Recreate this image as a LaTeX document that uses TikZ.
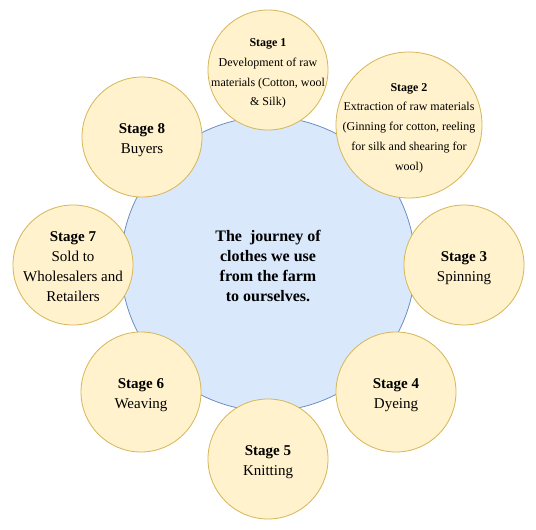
\documentclass[tikz,border=0pt]{standalone}
\usepackage{fontspec}
\setmainfont{Liberation Serif}
\definecolor{yfill}{HTML}{FFF2CC}
\definecolor{ydraw}{HTML}{D6B656}
\definecolor{bfill}{HTML}{DAE8FC}
\definecolor{bdraw}{HTML}{6C8EBF}
\begin{document}
\begin{tikzpicture}[x=1pt,y=-1pt,
  stagebox/.style={circle, draw=ydraw, fill=yfill, line width=0.8pt, minimum size=120pt, inner sep=0pt},
  stagetext/.style={align=center, inner sep=0pt, text=black, font=\fontsize{15}{20}\selectfont},
  smalltext/.style={stagetext, font=\fontsize{12}{19.8}\selectfont},
  hub/.style={circle, draw=bdraw, fill=bfill, line width=0.8pt, minimum size=294pt, inner sep=0pt},
  hubtext/.style={align=center, inner sep=0pt, text=black, font=\bfseries\fontsize{16}{20}\selectfont}]
\useasboundingbox (0,0) rectangle (536,530);
\fill[white] (0,0) rectangle (536,530);
\node[hub] (hub) at (268,264) {};
\node[hubtext] (hubt) at ([yshift=-2pt]hub.center) {The \ journey of\\clothes we use\\from the farm\\to ourselves.};
\node[stagebox] (s1) at (268,70) {};
\node[smalltext] (t1) at ([yshift=-3.5pt]s1.center) {\textbf{Stage 1}\\Development of raw\\materials (Cotton, wool\\\& Silk)};
\node[stagebox, minimum size=146pt] (s2) at (409,125) {};
\node[smalltext] (t2) at ([yshift=-3pt]s2.center) {\textbf{Stage 2}\\Extraction of raw materials\\(Ginning for cotton, reeling\\for silk and shearing for\\wool)};
\node[stagebox] (s3) at (464,265) {};
\node[stagetext] (t3) at ([yshift=-3pt]s3.center) {\textbf{Stage 3}\\Spinning};
\node[stagebox] (s4) at (396,392) {};
\node[stagetext] (t4) at ([yshift=-3pt]s4.center) {\textbf{Stage 4}\\Dyeing};
\node[stagebox] (s5) at (268,459) {};
\node[stagetext] (t5) at ([yshift=-3pt]s5.center) {\textbf{Stage 5}\\Knitting};
\node[stagebox] (s6) at (141,392) {};
\node[stagetext] (t6) at ([yshift=-3pt]s6.center) {\textbf{Stage 6}\\Weaving};
\node[stagebox] (s7) at (73,265) {};
\node[stagetext] (t7) at ([yshift=-1.5pt]s7.center) {\textbf{Stage 7}\\Sold to\\Wholesalers and\\Retailers};
\node[stagebox] (s8) at (142,137) {};
\node[stagetext] (t8) at ([yshift=-3pt]s8.center) {\textbf{Stage 8}\\Buyers};
\end{tikzpicture}
\end{document}
